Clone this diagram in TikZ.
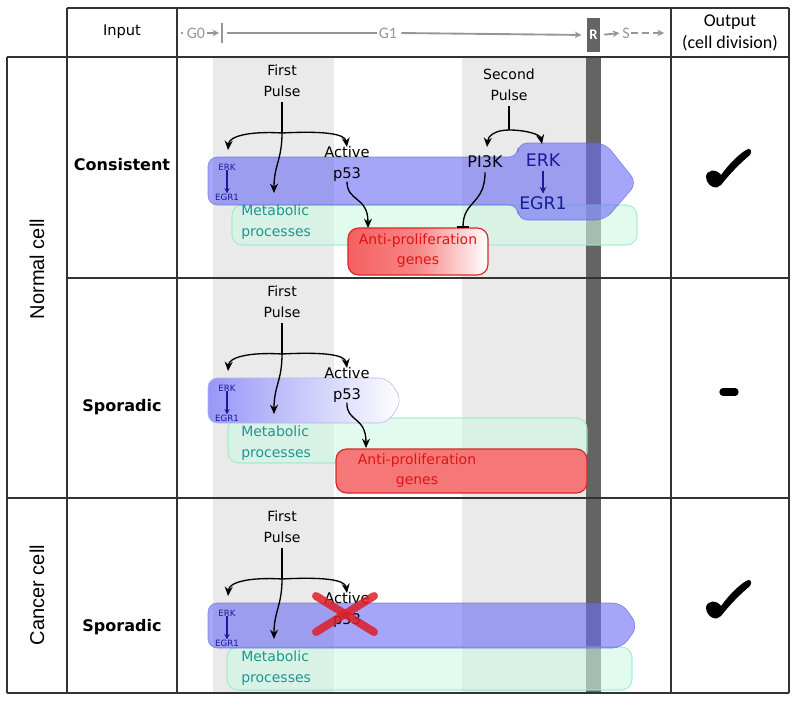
\documentclass[tikz,border=0pt]{standalone}
\usepackage{fontspec}
\setmainfont{DejaVu Sans}
\newfontfamily\arialfont{Liberation Sans}
\newfontfamily\calfont{Carlito}
\usetikzlibrary{arrows.meta}
\definecolor{bandgray}{RGB}{234,234,234}
\definecolor{rgray}{RGB}{100,100,100}
\definecolor{tlgray}{RGB}{150,150,150}
\definecolor{erkblue}{RGB}{110,110,245}
\definecolor{erkline}{RGB}{90,90,220}
\definecolor{erktext}{RGB}{25,25,155}
\definecolor{metfill}{RGB}{205,250,228}
\definecolor{metline}{RGB}{150,235,200}
\definecolor{mettext}{RGB}{30,150,140}
\definecolor{antired}{RGB}{245,95,95}
\definecolor{antiline}{RGB}{215,40,40}
\definecolor{antitext}{RGB}{225,20,20}
\definecolor{xred}{RGB}{222,30,40}

\tikzset{
  lbl/.style={font=\fontsize{10.5}{15.5}\selectfont, align=center, inner sep=0pt},
  rowlbl/.style={font=\bfseries\fontsize{12}{14}\selectfont, inner sep=0pt},
  celllbl/.style={font=\arialfont\fontsize{15}{17}\selectfont, rotate=90, inner sep=0pt},
  erksmall/.style={font=\fontsize{6.5}{7}\selectfont, text=erktext, inner sep=0pt},
  erkbig/.style={font=\fontsize{13}{15}\selectfont, text=erktext, inner sep=0pt},
  mettxt/.style={font=\fontsize{10.5}{15.5}\selectfont, text=mettext, align=left, inner sep=0pt, anchor=west},
  antitxt/.style={font=\fontsize{10.5}{15}\selectfont, text=antitext, align=center, inner sep=0pt},
  tltxt/.style={font=\calfont\fontsize{12}{14}\selectfont, text=tlgray, inner sep=1pt},
  arr/.style={-{Stealth[length=7pt,width=6pt]}, line width=1pt},
  inh/.style={-{Bar[width=9pt,line width=1.2pt]}, line width=1pt},
  smallarr/.style={-{Stealth[length=4pt,width=4pt]}, line width=0.9pt, draw=erktext},
  tlline/.style={draw=tlgray, line width=1.4pt},
  tlarr/.style={tlline, -{Stealth[length=5pt,width=5pt]}},
  erkbar/.style={fill=erkblue, fill opacity=0.62, draw=erkline, draw opacity=0.7, rounded corners=7pt},
  metbar/.style={fill=metfill, fill opacity=0.6, draw=metline, draw opacity=0.8, line width=0.8pt, rounded corners=8pt},
  antibox/.style={draw=antiline, line width=0.9pt, rounded corners=8pt},
  xmark/.style={draw=xred, draw opacity=0.85, line width=6pt, line cap=round},
  tabline/.style={draw=black!80, line width=1.1pt},
  checkmk/.pic={
    \fill (-22,7) .. controls (-22,0) and (-12,-2) .. (-7,5)
      .. controls (1,-6) and (10,-15) .. (18,-20)
      .. controls (22,-23) and (25,-19) .. (22,-15)
      .. controls (11,-6) and (0,6) .. (-7,15)
      .. controls (-11,20) and (-21,17) .. (-22,7) -- cycle;
  }
}

\begin{document}
\begin{tikzpicture}[x=0.75pt,y=-0.75pt]
  \useasboundingbox (0,0) rectangle (800,703);

  % time bands and restriction point
  \fill[bandgray] (213,57) rectangle (334,693);
  \fill[bandgray] (462,57) rectangle (586,693);
  \fill[rgray] (586,57) rectangle (601,693);

  % header timeline
  \fill[tlgray] (182,33) circle (1pt);
  \node[tltxt] (g0) at (196,33) {G0};
  \coordinate (g0end) at (219,33);
  \draw[tlarr] (g0.east) -- (g0end);
  \draw[tlgray, line width=1.6pt] (222,23) -- (222,43);
  \coordinate (g1start) at (227,33);
  \node[tltxt] (g1) at (388,33) {G1};
  \node[fill=rgray, text=white, font=\calfont\bfseries\fontsize{11}{13}\selectfont,
        minimum width=9.75pt, minimum height=25.5pt, inner sep=0pt] (rbox) at (593.5,35) {R};
  \node[tltxt] (sph) at (626,33) {S};
  \coordinate (send) at (664,33);
  \draw[tlline] (g1start) -- (g1.west);
  \draw[tlarr, shorten <=2pt, shorten >=4pt] (g1.east) -- (rbox.west);
  \draw[tlarr, shorten <=3pt, shorten >=1pt] (rbox.east) -- (sph.west);
  \draw[tlarr, dash pattern=on 5pt off 3pt] (sph.east) -- (send);

  % row 1: consistent, normal cell
  \draw[metbar] (232,205) rectangle (637,245);
  \draw[erkbar] (208,181) -- (208,157) -- (518,157) -- (518,143) -- (605,143) -- (637,183)
    -- (605,220) -- (518,220) -- (518,205) -- (208,205) -- cycle;
  \draw[antibox, left color=antired, right color=white, middle color=antired!75] (348,228) rectangle (488,275);
  \node[antitxt] (antiA) at (418,251) {Anti-proliferation\\genes};

  % row 2: sporadic, normal cell
  \draw[metbar] (228,418) rectangle (587,463);
  \draw[left color=erkblue!72, right color=white, draw=erkline!45, rounded corners=7pt]
    (208,400) -- (208,378) -- (388,378) -- (402,400) -- (388,423) -- (208,423) -- cycle;
  \draw[antibox, fill=antired!85] (336,449) rectangle (587,493);
  \node[antitxt] (antiB) at (417,471) {Anti-proliferation\\genes};

  % row 3: sporadic, cancer cell
  \draw[metbar] (227,647) rectangle (632,690);
  \draw[erkbar] (208,626) -- (208,603) -- (622,603) -- (638,626) -- (622,648) -- (208,648) -- cycle;

  % first pulse in every row
  \foreach \r/\dy in {A/0,B/221,C/446}{
    \begin{scope}[shift={(0,\dy)}]
      \node[lbl, outer sep=4pt] (pulse\r) at (282,81) {First\\Pulse};
      \coordinate (br\r) at (282,133);
      \node[erksmall] (erk\r) at (227,167) {ERK};
      \node[erksmall] (egr\r) at (227,197) {EGR1};
      \node[lbl, font=\fontsize{11}{15.5}\selectfont] (act\r) at (347,164) {Active\\p53};
      \node[mettxt] (met\r) at (241,222) {Metabolic\\processes};
      \coordinate (erkin\r) at (228,150);
      \coordinate (actin\r) at (347,147);
      \coordinate (metin\r) at (274,193);
      \draw[line width=1pt] (pulse\r.south) -- (br\r);
      \draw[arr] (br\r) .. controls (250,131) and (229,136) .. (erkin\r);
      \draw[arr] (br\r) .. controls (320,131) and (345,133) .. (actin\r);
      \draw[arr] (br\r) .. controls (282,160) and (274,165) .. (metin\r);
      \draw[smallarr] (erk\r) -- (egr\r);
    \end{scope}
  }

  % p53 to anti-proliferation genes
  \coordinate (antiinA) at (368,228);
  \coordinate (antiinB) at (366,448);
  \draw[arr] (actA.south) .. controls (347,202) and (368,196) .. (antiinA);
  \draw[arr] (actB.south) .. controls (346,422) and (366,416) .. (antiinB);
  \draw[xmark] (316,596) -- (374,632);
  \draw[xmark] (316,632) -- (374,596);

  % second pulse
  \node[lbl, outer sep=4pt] (pulseS) at (509,85) {Second\\Pulse};
  \coordinate (brS) at (509,130);
  \node[font=\fontsize{12}{14}\selectfont, inner sep=0pt] (pi3k) at (485,162) {PI3K};
  \node[erkbig] (erkL) at (543,160) {ERK};
  \node[erkbig] (egrL) at (543,203) {EGR1};
  \coordinate (pi3kin) at (487,147);
  \coordinate (erkLin) at (542,144);
  \coordinate (antiinP) at (463,228);
  \draw[line width=1pt] (pulseS.south) -- (brS);
  \draw[arr] (brS) .. controls (495,130) and (488,136) .. (pi3kin);
  \draw[arr] (brS) .. controls (525,130) and (540,134) .. (erkLin);
  \draw[smallarr, -{Stealth[length=5pt,width=5pt]}, shorten <=3pt, shorten >=2pt] (erkL) -- (egrL);
  \draw[inh, shorten <=3pt] (pi3k.south) .. controls (485,205) and (463,200) .. (antiinP);

  % table texts
  \node[font=\fontsize{11}{13}\selectfont, inner sep=0pt] (inhead) at (122,32) {Input};
  \node[font=\calfont\fontsize{13.5}{17}\selectfont, align=center, inner sep=0pt] (outhead) at (730,33) {Output\\(cell division)};
  \node[rowlbl] (consA) at (122,165) {Consistent};
  \node[rowlbl] (sporB) at (122,407) {Sporadic};
  \node[rowlbl] (sporC) at (122,627) {Sporadic};
  \node[celllbl] (normal) at (37,269) {Normal cell};
  \node[celllbl] (cancer) at (37,595) {Cancer cell};

  % outputs
  \pic (chkA) at (728,170) {checkmk};
  \draw[line width=5.5pt, line cap=round] (723,392) -- (735,392);
  \pic (chkC) at (728,601) {checkmk};

  % table lines
  \draw[tabline] (67,8) -- (789,8);
  \draw[tabline] (7,57) -- (789,57);
  \draw[tabline] (67,278) -- (789,278);
  \draw[tabline] (7,498) -- (789,498);
  \draw[tabline] (7,693) -- (789,693);
  \draw[tabline] (7,57) -- (7,693);
  \draw[tabline] (67,8) -- (67,693);
  \draw[tabline] (177,8) -- (177,693);
  \draw[tabline] (671,8) -- (671,693);
  \draw[tabline] (789,8) -- (789,693);
\end{tikzpicture}
\end{document}
